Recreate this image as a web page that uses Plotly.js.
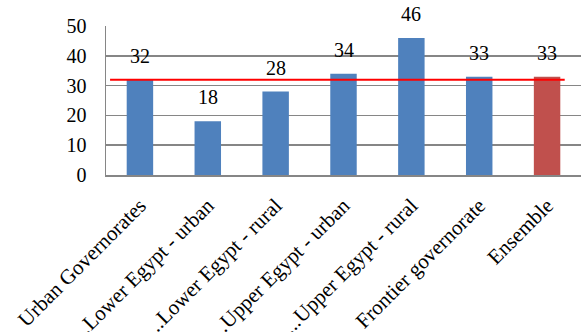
<!DOCTYPE html>
<html>
<head>
<meta charset="utf-8">
<script src="https://cdn.plot.ly/plotly-3.0.1.min.js"></script>
<style>
html,body{margin:0;padding:0;background:#fff;}
#chart{width:581px;height:332px;}
</style>
</head>
<body>
<div id="chart"></div>
<script>
const categories = ["Urban Governorates", "...Lower Egypt - urban", "...Lower Egypt - rural", "...Upper Egypt - urban", "...Upper Egypt - rural", "Frontier governorate", "Ensemble"];
const values = [32, 18, 28, 34, 46, 33, 33];
const barColors = ["#4F81BD", "#4F81BD", "#4F81BD", "#4F81BD", "#4F81BD", "#4F81BD", "#C0504D"];
const referenceLevel = 32;
const yTicks = [0, 10, 20, 30, 40, 50];

const trace = {
  type: "bar",
  x: categories,
  y: values,
  marker: {color: barColors},
  hoverinfo: "none"
};

const annotations = categories.map((c, i) => ({
  x: c, y: values[i], text: String(values[i]),
  showarrow: false, yanchor: "bottom", yshift: 11,
  font: {family: "Liberation Serif", size: 20, color: "#000"}
}));

const layout = {
  width: 581, height: 332,
  margin: {l: 106, r: 0, t: 26, b: 157},
  paper_bgcolor: "#fff", plot_bgcolor: "#fff",
  showlegend: false,
  bargap: 0.61,
  xaxis: {
    type: "category",
    tickangle: -45,
    showgrid: false,
    showline: true, linecolor: "#868686", linewidth: 2,
    ticks: "outside", ticklen: 8, tickcolor: "rgba(0,0,0,0)",
    tickfont: {family: "Liberation Serif", size: 21, color: "#000"},
    automargin: false
  },
  yaxis: {
    range: [0, 50],
    tickvals: yTicks,
    ticktext: yTicks.map(String),
    showgrid: true, gridcolor: "#868686", gridwidth: 1.5,
    showline: true, linecolor: "#868686", linewidth: 1.5,
    zeroline: false,
    ticks: "outside", ticklen: 14, tickcolor: "rgba(0,0,0,0)",
    tickfont: {family: "Liberation Serif", size: 20, color: "#000"},
    automargin: false
  },
  shapes: [{
    type: "line", xref: "x", yref: "y",
    x0: -0.44, x1: 6.26, y0: referenceLevel, y1: referenceLevel,
    line: {color: "#FF0000", width: 2}, layer: "above"
  }],
  annotations: annotations
};

Plotly.newPlot("chart", [trace], layout, {staticPlot: true});
</script>
</body>
</html>
